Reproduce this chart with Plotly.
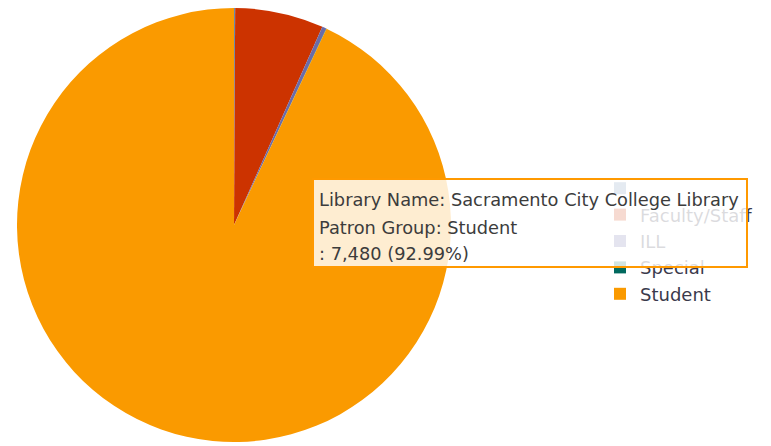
import plotly.graph_objects as go

# Data
patron_groups = [" ", "Faculty/Staff", "ILL", "Special", "Student"]
counts = [7, 530, 25, 2, 7480]
colors = ["#698CAF", "#CC3300", "#6B6BA8", "#00695E", "#FA9A00"]

tooltip_lines = [
    "Library Name: Sacramento City College Library",
    "Patron Group: Student",
    ": 7,480 (92.99%)",
]

W, H = 771, 446


def px(x):
    return x / W


def py(y):
    return (H - y) / H


fig = go.Figure(
    go.Pie(
        labels=patron_groups,
        values=counts,
        sort=False,
        direction="clockwise",
        rotation=0,
        textinfo="none",
        hoverinfo="none",
        marker=dict(colors=colors, line=dict(width=0)),
        domain=dict(x=[px(17), px(451)], y=[py(442), py(8)]),
    )
)

annotations = [
    # tooltip box
    dict(
        text=" ",
        x=px(530),
        y=py(223),
        xref="paper",
        yref="paper",
        xanchor="center",
        yanchor="middle",
        width=432,
        height=86,
        showarrow=False,
        bgcolor="rgba(255,255,255,0.82)",
        bordercolor="#FF9900",
        borderwidth=2,
        borderpad=0,
    )
]
for line, yc in zip(tooltip_lines, [200, 227, 253]):
    annotations.append(
        dict(
            text=line,
            x=px(317),
            y=py(yc),
            xref="paper",
            yref="paper",
            xanchor="left",
            yanchor="middle",
            align="left",
            showarrow=False,
            font=dict(family="DejaVu Sans", size=17.8, color="#3C3C3C"),
        )
    )

fig.update_layout(
    width=W,
    height=H,
    margin=dict(l=0, r=0, t=0, b=0),
    paper_bgcolor="white",
    plot_bgcolor="white",
    showlegend=True,
    legend=dict(
        x=px(600),
        y=py(170),
        xanchor="left",
        yanchor="top",
        font=dict(family="DejaVu Sans", size=18, color="#3A3A4C"),
        bgcolor="rgba(0,0,0,0)",
    ),
    annotations=annotations,
)

fig.write_html(
    "out.html",
    config={"displayModeBar": False},
    post_script="document.body.style.margin='0';document.body.style.padding='0';",
)
